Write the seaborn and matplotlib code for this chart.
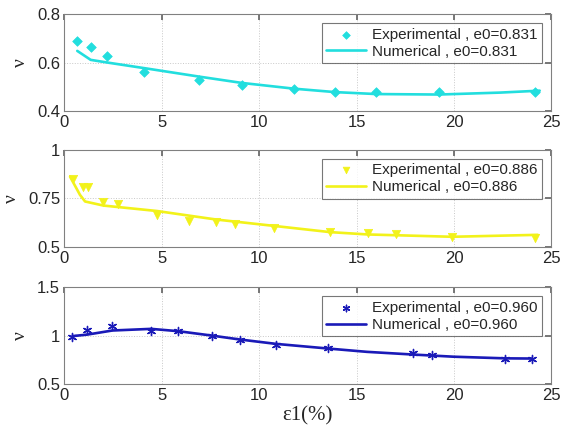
import numpy as np
import pandas as pd
import matplotlib
matplotlib.use('Agg')
import matplotlib.pyplot as plt
import seaborn as sns

# experimental points and numerical curves
exp1_x = [0.66, 1.35, 2.2, 4.09, 6.91, 9.1, 11.81, 13.9, 16.0, 19.22, 24.17]
exp1_v = [0.689, 0.662, 0.625, 0.563, 0.529, 0.508, 0.492, 0.478, 0.478, 0.480, 0.478]
num1_x = [0.66, 1.35, 2.2, 4.09, 6.91, 9.1, 11.81, 13.9, 16.0, 19.22, 22.37, 24.4]
num1_v = [0.648, 0.611, 0.600, 0.577, 0.542, 0.516, 0.492, 0.478, 0.470, 0.468, 0.476, 0.484]

exp2_x = [0.46, 0.97, 1.23, 2.0, 2.74, 4.74, 6.4, 7.79, 8.76, 10.77, 13.64, 15.56, 17.0, 19.9, 24.17]
exp2_v = [0.848, 0.807, 0.807, 0.729, 0.719, 0.664, 0.633, 0.626, 0.616, 0.595, 0.575, 0.570, 0.564, 0.552, 0.546]
num2_x = [0.29, 0.8, 1.06, 2.0, 4.74, 7.79, 10.77, 13.64, 15.56, 19.9, 23.4, 24.3]
num2_v = [0.861, 0.767, 0.733, 0.712, 0.684, 0.640, 0.607, 0.575, 0.563, 0.551, 0.559, 0.561]

exp3_x = [0.41, 1.18, 2.46, 4.45, 5.85, 7.56, 9.02, 10.87, 13.55, 17.92, 18.86, 22.63, 23.98]
exp3_v = [0.983, 1.056, 1.097, 1.045, 1.045, 0.993, 0.952, 0.907, 0.873, 0.815, 0.804, 0.760, 0.755]
num3_x = [0.41, 1.18, 2.46, 4.45, 5.85, 7.56, 9.02, 10.87, 13.55, 15.53, 17.92, 19.97, 22.63, 24.0]
num3_v = [0.994, 1.01, 1.052, 1.069, 1.045, 1.0, 0.959, 0.914, 0.866, 0.832, 0.804, 0.782, 0.765, 0.763]

e0_labels = ['0.831', '0.886', '0.960']
colors = ['#22dede', '#f2f21a', '#1a1ab8']
markers = ['D', 'v', (6, 2, 0)]
msizes = [24, 36, 34]
ylims = [(0.4, 0.8), (0.5, 1.0), (0.5, 1.5)]
yticks = [[0.4, 0.6, 0.8], [0.5, 0.75, 1.0], [0.5, 1.0, 1.5]]
yticklabels = [['0.4', '0.6', '0.8'], ['0.5', '0.75', '1'], ['0.5', '1', '1.5']]

sns.set_theme(style='white')
plt.rcParams['font.family'] = ['Liberation Sans', 'DejaVu Sans']

fig = plt.figure(figsize=(5.63, 4.32), dpi=100)
bottoms = [0.743, 0.429, 0.111]
exps = [(exp1_x, exp1_v), (exp2_x, exp2_v), (exp3_x, exp3_v)]
nums = [(num1_x, num1_v), (num2_x, num2_v), (num3_x, num3_v)]

for i in range(3):
    ax = fig.add_axes([0.1144, bottoms[i], 0.865, 0.2245])
    ex = pd.DataFrame({'x': exps[i][0], 'v': exps[i][1]})
    nm = pd.DataFrame({'x': nums[i][0], 'v': nums[i][1]})
    sns.scatterplot(data=ex, x='x', y='v', ax=ax, color=colors[i], marker=markers[i],
                    s=msizes[i], edgecolor=colors[i], linewidth=1.0 if i == 2 else 0.5,
                    label='Experimental , e0=' + e0_labels[i], zorder=3)
    sns.lineplot(data=nm, x='x', y='v', ax=ax, color=colors[i], linewidth=1.9,
                 label='Numerical , e0=' + e0_labels[i], zorder=2)
    ax.set_xlim(0, 25)
    ax.set_ylim(*ylims[i])
    ax.set_xticks([0, 5, 10, 15, 20, 25])
    ax.set_yticks(yticks[i])
    ax.set_yticklabels(yticklabels[i])
    ax.grid(True, linestyle=':', color='#c8c8c8', linewidth=0.7)
    ax.tick_params(direction='in', top=True, right=True, labelsize=12, length=4,
                   color='#666666', pad=3)
    for sp in ax.spines.values():
        sp.set_color('#808080')
        sp.set_linewidth(0.8)
    ax.set_ylabel('ν', family=['Liberation Serif', 'DejaVu Serif'], fontsize=14, labelpad=6)
    ax.set_xlabel('')
    leg = ax.legend(loc='upper right', fontsize=11, frameon=True, fancybox=False,
                    borderaxespad=0.6, handlelength=2.6, handletextpad=0.4,
                    labelspacing=0.2, borderpad=0.3, markerscale=0.8)
    leg.get_frame().set_edgecolor('#555555')
    leg.get_frame().set_linewidth(0.8)
    if i == 2:
        ax.set_xlabel('ε1(%)', family=['Liberation Serif', 'DejaVu Serif'], fontsize=15, labelpad=2)

fig.savefig('out.png', dpi=100)
